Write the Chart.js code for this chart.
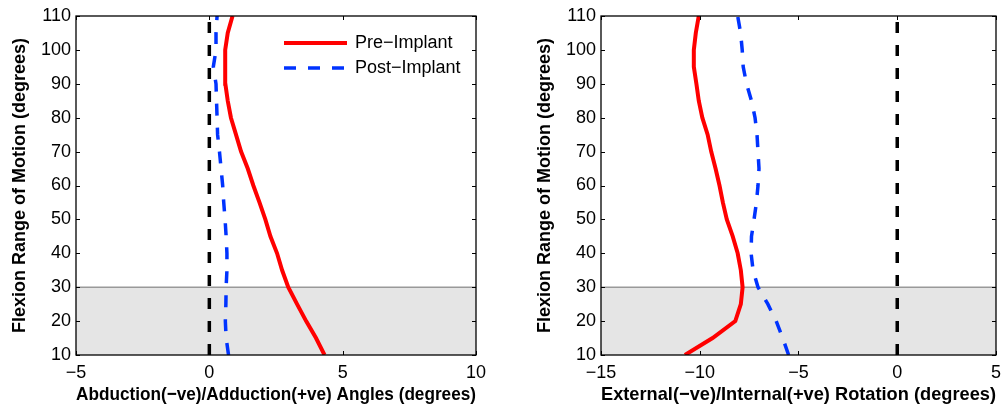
<!DOCTYPE html>
<html>
<head>
<meta charset="utf-8">
<script src="https://cdn.jsdelivr.net/npm/chart.js@4"></script>
<style>
  html, body { margin: 0; padding: 0; background: #fff; }
  #wrap { position: relative; width: 1008px; height: 409px; }
  canvas { position: absolute; top: 0; }
  #abduction { left: 0; }
  #rotation { left: 504px; }
</style>
</head>
<body>
<div id="wrap">
  <canvas id="abduction" width="504" height="409"></canvas>
  <canvas id="rotation" width="504" height="409"></canvas>
</div>
<script>
// flexion angle (degrees) shared by every curve
const flexion = [10, 15, 20, 25, 30, 35, 40, 45, 50, 55, 60, 65, 70, 75, 80, 85, 90, 95, 100, 105, 110];

// abduction/adduction angles (degrees)
const preAbduction  = [4.32, 4.0, 3.63, 3.29, 2.96, 2.73, 2.54, 2.29, 2.1, 1.88, 1.65, 1.44, 1.19, 1.0, 0.81, 0.69, 0.6, 0.59, 0.6, 0.69, 0.87];
const postAbduction = [0.72, 0.63, 0.6, 0.62, 0.63, 0.66, 0.66, 0.63, 0.59, 0.54, 0.5, 0.44, 0.38, 0.31, 0.29, 0.27, 0.25, 0.15, 0.25, 0.25, 0.29];

// external/internal rotation (degrees)
const preRotation  = [-10.75, -9.35, -8.2, -7.92, -7.83, -7.92, -8.08, -8.33, -8.63, -8.83, -9.0, -9.2, -9.42, -9.6, -9.87, -10.05, -10.17, -10.3, -10.3, -10.2, -10.05];
const postRotation = [-5.5, -5.8, -6.13, -6.55, -7.05, -7.3, -7.4, -7.38, -7.25, -7.13, -7.05, -7.0, -7.05, -7.1, -7.2, -7.38, -7.63, -7.8, -7.85, -7.93, -8.08];

const seriesNames = ['Pre\u2212Implant', 'Post\u2212Implant'];
const flexionTicks = [10, 20, 30, 40, 50, 60, 70, 80, 90, 100, 110];
const earlyFlexionLimit = 30;   // upper edge of the shaded band

const FONT = "'Liberation Sans', Arial, Helvetica, sans-serif";
const toPoints = (xs) => xs.map((v, i) => ({ x: v, y: flexion[i] }));
const minus = (v) => String(v).replace('-', '\u2212');

// MATLAB-style box: black frame with inward ticks on all four sides
const frameTicks = {
  id: 'frameTicks',
  afterDatasetsDraw(chart) {
    const { ctx, chartArea: a, scales: { x, y } } = chart;
    ctx.save();
    ctx.strokeStyle = '#000';
    ctx.lineWidth = 1;
    ctx.beginPath();
    x.ticks.forEach(t => {
      const px = Math.round(x.getPixelForValue(t.value)) + 0.5;
      ctx.moveTo(px, a.bottom); ctx.lineTo(px, a.bottom - 4);
      ctx.moveTo(px, a.top); ctx.lineTo(px, a.top + 4);
    });
    y.ticks.forEach(t => {
      const py = Math.round(y.getPixelForValue(t.value)) + 0.5;
      ctx.moveTo(a.left, py); ctx.lineTo(a.left + 4, py);
      ctx.moveTo(a.right, py); ctx.lineTo(a.right - 4, py);
    });
    ctx.stroke();
    ctx.lineWidth = 1.3;
    ctx.strokeRect(a.left, a.top, a.right - a.left, a.bottom - a.top);
    ctx.restore();
  }
};

// legend box in the upper right of the plot area
const insideLegend = {
  id: 'insideLegend',
  afterDraw(chart, args, opts) {
    if (!opts.show) return;
    const { ctx, chartArea: a } = chart;
    const x0 = a.left + 208, len = 63;
    ctx.save();
    ctx.font = '18px ' + FONT;
    ctx.textBaseline = 'middle';
    chart.data.datasets.slice(0, 2).forEach((ds, i) => {
      const yy = a.top + 27 + i * 25;
      ctx.strokeStyle = ds.borderColor;
      ctx.lineWidth = ds.borderWidth;
      ctx.setLineDash(ds.borderDash || []);
      ctx.beginPath();
      ctx.moveTo(x0, yy); ctx.lineTo(x0 + len, yy);
      ctx.stroke();
      ctx.setLineDash([]);
      ctx.fillStyle = '#000';
      ctx.fillText(ds.label, x0 + len + 8, yy);
    });
    ctx.restore();
  }
};

function makePanel(id, pre, post, xMin, xMax, xTitle, padLeft, padRight, legend) {
  return new Chart(document.getElementById(id), {
    type: 'line',
    data: {
      datasets: [
        { label: seriesNames[0], data: toPoints(pre), borderColor: '#ff0000', borderWidth: 4, pointRadius: 0, fill: false },
        { label: seriesNames[1], data: toPoints(post), borderColor: '#0033ff', borderWidth: 3.5, borderDash: [12, 12], pointRadius: 0, fill: false },
        { label: 'zero', data: [{ x: 0, y: 10 }, { x: 0, y: 110 }], borderColor: '#000', borderWidth: 3.5, borderDash: [11, 12], pointRadius: 0, fill: false },
        { label: 'early', data: [{ x: xMin, y: earlyFlexionLimit }, { x: xMax, y: earlyFlexionLimit }], borderColor: '#999999', borderWidth: 1.5, backgroundColor: '#e5e5e5', pointRadius: 0, fill: 'start' }
      ]
    },
    options: {
      responsive: false,
      animation: false,
      devicePixelRatio: 1,
      layout: { padding: { left: padLeft, right: padRight, top: 16, bottom: 0 } },
      plugins: {
        legend: { display: false },
        tooltip: { enabled: false },
        insideLegend: { show: legend }
      },
      scales: {
        x: {
          type: 'linear', min: xMin, max: xMax,
          grid: { display: false, drawTicks: false },
          border: { display: false },
          ticks: { stepSize: 5, padding: 7, color: '#000', font: { family: FONT, size: 18 }, callback: minus },
          title: { display: true, text: xTitle, color: '#000', font: { family: FONT, size: 19, weight: 'bold' }, padding: { top: 0, bottom: 3 } },
          afterFit(s) { s.height = 54; }
        },
        y: {
          type: 'linear', min: 10, max: 110,
          grid: { display: false, drawTicks: false },
          border: { display: false },
          afterBuildTicks(s) { s.ticks = flexionTicks.map(v => ({ value: v })); },
          ticks: { padding: 5, color: '#000', font: { family: FONT, size: 18 } },
          title: { display: true, text: 'Flexion Range of Motion (degrees)', color: '#000', font: { family: FONT, size: 18, weight: 'bold' }, padding: { top: 9, bottom: 0 } },
          afterFit(s) { s.width = 76; }
        }
      }
    },
    plugins: [frameTicks, insideLegend]
  });
}

makePanel('abduction', preAbduction, postAbduction, -5, 10,
  'Abduction(\u2212ve)/Adduction(+ve) Angles (degrees)', 0, 28, true);
makePanel('rotation', preRotation, postRotation, -15, 5,
  'External(\u2212ve)/Internal(+ve) Rotation (degrees)', 21, 7, false);
</script>
</body>
</html>
